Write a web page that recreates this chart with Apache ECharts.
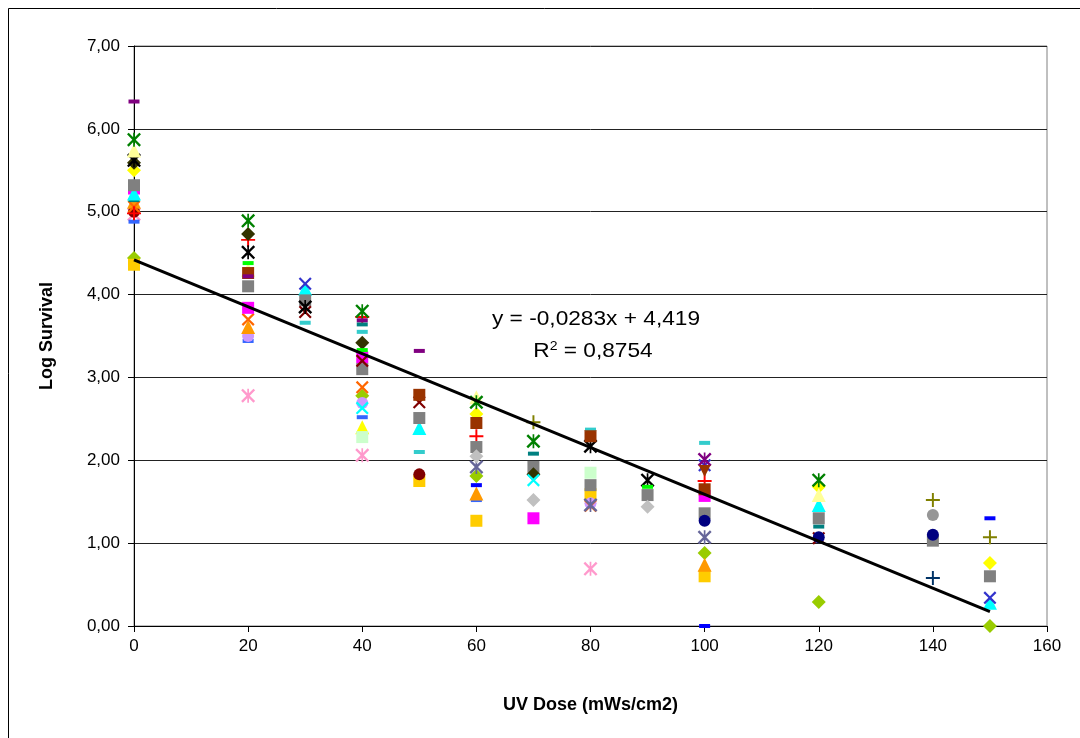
<!DOCTYPE html>
<html>
<head>
<meta charset="utf-8">
<script src="https://cdn.jsdelivr.net/npm/echarts@6/dist/echarts.min.js"></script>
<style>
html,body{margin:0;padding:0;background:#fff;}
#chart{width:1080px;height:738px;}
</style>
</head>
<body>
<div id="chart"></div>
<script>
// ---- Data (x = UV dose, y = log survival) ----
const xTicks = [0, 20, 40, 60, 80, 100, 120, 140, 160];
const yTicks = [0, 1, 2, 3, 4, 5, 6, 7];
const trendSlope = -0.0283;
const trendIntercept = 4.419;
const trendRange = [0, 150];
const equationText = "y = -0,0283x + 4,419";
const r2Text = "0,8754";

const oliveDiamond   = [[0,5.59],[20,4.73],[40,3.42],[70,1.83]];
const graySquare     = [[0,5.32],[20,4.10],[30,3.93],[40,3.10],[50,2.51],[60,2.16],[70,1.92],[80,1.70],[90,1.58],[100,1.36],[120,1.30],[140,1.03],[150,0.60]];
const cyanTriangle   = [[0,5.22],[30,4.07],[50,2.39],[120,1.46],[150,0.28]];
const greenStar      = [[0,5.87],[20,4.89],[40,3.80],[60,2.70],[70,2.23],[120,1.76]];
const blackStar      = [[0,5.62],[20,4.51],[30,3.85],[80,2.17],[90,1.76]];
const yellowDiamond  = [[0,5.50],[60,2.56],[120,1.68],[150,0.76]];
const paleTriangle   = [[0,5.74],[20,4.30],[60,2.76],[120,1.58]];
const brownSquare    = [[20,4.26],[50,2.79],[60,2.45],[80,2.29],[100,1.65]];
const purpleDash     = [[0,6.33],[20,4.22],[40,3.69],[50,3.32]];
const redPlus        = [[0,4.98],[20,4.66],[40,3.73],[60,2.29],[100,1.75]];
const limeDash       = [[20,4.38],[40,3.33],[90,1.68]];
const magentaSquare  = [[0,5.28],[20,3.84],[40,3.24],[70,1.30],[100,1.57]];
const orangeX        = [[0,5.06],[20,3.70],[40,2.88],[80,1.45]];
const orangeTriangle = [[0,5.12],[20,3.61],[60,1.60],[100,0.74]];
const lavenderCircle = [[20,3.50],[40,2.69],[80,1.48]];
const blueDash       = [[0,4.88],[20,3.44],[40,2.52],[60,1.52]];
const pinkStar       = [[0,4.97],[20,2.78],[40,2.06],[80,0.69]];
const turquoiseDash  = [[30,3.66],[40,3.55],[50,2.10],[80,2.37],[100,2.21]];
const tealDash       = [[0,5.14],[40,3.64],[70,2.08],[120,1.20]];
const darkRedX       = [[30,3.79],[40,3.20],[50,2.70],[120,1.06]];
const cyanX          = [[40,2.63],[70,1.76]];
const yellowTriangle = [[40,2.40]];
const mintSquare     = [[40,2.28],[80,1.85]];
const greenDiamond   = [[0,4.44],[40,2.78],[60,1.81],[100,0.88],[120,0.29],[150,0.00]];
const goldSquare     = [[0,4.36],[50,1.75],[60,1.27],[80,1.59],[100,0.60]];
const maroonCircle   = [[0,5.00],[50,1.83]];
const slateStar      = [[60,1.92],[80,1.46],[100,1.07]];
const silverDiamond  = [[60,2.05],[70,1.52],[90,1.44]];
const olivePlus      = [[70,2.46],[140,1.52],[150,1.07]];
const navyCircle     = [[100,1.27],[120,1.07],[140,1.10]];
const grayCircle     = [[140,1.34]];
const darkBluePlus   = [[140,0.58]];
const royalDash      = [[60,1.70],[100,0.00],[150,1.30]];
const slateX         = [[30,4.13],[100,1.94],[150,0.34]];
const purpleStar     = [[100,2.01]];
const brownTriangle  = [[80,2.29],[100,1.87]];

// ---- Marker styles ----
const SYM = {
  diamond: 'diamond',
  square: 'rect',
  triangle: 'triangle',
  circle: 'circle',
  dash: 'rect',
  x: 'path://M0,1.2L1.2,0L5,3.8L8.8,0L10,1.2L6.2,5L10,8.8L8.8,10L5,6.2L1.2,10L0,8.8L3.8,5Z',
  star: 'path://M0,1.2L1.2,0L5,3.8L8.8,0L10,1.2L6.2,5L10,8.8L8.8,10L5,6.2L1.2,10L0,8.8L3.8,5Z M4.4,0H5.6V10H4.4Z',
  plus: 'path://M4.3,0H5.7V4.3H10V5.7H5.7V10H4.3V5.7H0V4.3H4.3Z',
  downTriangle: 'path://M0,0H10L5,10Z'
};
const SIZE = {diamond:14, square:12, triangle:14, circle:12, dash:[11,4], x:13, star:14, plus:14, downTriangle:12};

const seriesDefs = [
  [greenDiamond,'diamond','#99CC00'],
  [goldSquare,'square','#FFCC00'],
  [pinkStar,'star','#FF99CC'],
  [blueDash,'dash','#3366FF'],
  [lavenderCircle,'circle','#CC99FF'],
  [maroonCircle,'circle','#800000'],
  [orangeTriangle,'triangle','#FF9900'],
  [orangeX,'x','#FF6600'],
  [redPlus,'plus','#FF0000'],
  [tealDash,'dash','#008080'],
  [magentaSquare,'square','#FF00FF'],
  [cyanTriangle,'triangle','#00FFFF'],
  [graySquare,'square','#808080'],
  [darkRedX,'x','#800000'],
  [yellowDiamond,'diamond','#FFFF00'],
  [oliveDiamond,'diamond','#333300'],
  [blackStar,'star','#000000'],
  [paleTriangle,'triangle','#FFFF99'],
  [greenStar,'star','#008000'],
  [brownSquare,'square','#993300'],
  [purpleDash,'dash','#800080'],
  [limeDash,'dash','#00FF00'],
  [turquoiseDash,'dash','#33CCCC'],
  [cyanX,'x','#00FFFF'],
  [yellowTriangle,'triangle','#FFFF00'],
  [mintSquare,'square','#CCFFCC'],
  [slateStar,'star','#666699'],
  [silverDiamond,'diamond','#C0C0C0'],
  [olivePlus,'plus','#808000'],
  [navyCircle,'circle','#000080'],
  [grayCircle,'circle','#969696'],
  [darkBluePlus,'plus','#003366'],
  [royalDash,'dash','#0000FF'],
  [slateX,'x','#3333CC'],
  [purpleStar,'star','#800080'],
  [brownTriangle,'downTriangle','#993300']
];

const series = seriesDefs.map(([data, kind, color], i) => ({
  type: 'scatter',
  name: 's' + i,
  data: data,
  symbol: SYM[kind],
  symbolSize: SIZE[kind],
  itemStyle: {color: color, opacity: 1},
  emphasis: {disabled: true},
  z: 2
}));

const trendData = trendRange.map(x => [x, trendIntercept + trendSlope * x]);
series.push({
  type: 'line',
  data: trendData,
  symbol: 'none',
  lineStyle: {color: '#000', width: 3},
  z: 5,
  silent: true
});

const fmt = v => v.toFixed(2).replace('.', ',');

const chart = echarts.init(document.getElementById('chart'));
chart.setOption({
  animation: false,
  backgroundColor: '#fff',
  grid: {left: 134, right: 33, top: 46, bottom: 112, show: true, borderColor: '#808080', borderWidth: 1},
  xAxis: {
    type: 'value', min: xTicks[0], max: xTicks[xTicks.length-1], interval: 20,
    name: 'UV Dose (mWs/cm2)', nameLocation: 'middle', nameGap: 70,
    nameTextStyle: {fontFamily: 'Liberation Sans', fontSize: 18, fontWeight: 'bold', color: '#000'},
    axisLine: {lineStyle: {color: '#000', width: 1}},
    axisTick: {show: true, inside: false, length: 6, lineStyle: {color: '#000'}},
    axisLabel: {fontFamily: 'Liberation Sans', fontSize: 17, color: '#000', margin: 12},
    splitLine: {show: false}
  },
  yAxis: {
    type: 'value', min: yTicks[0], max: yTicks[yTicks.length-1], interval: 1,
    name: 'Log Survival', nameLocation: 'middle', nameGap: 78, nameRotate: 90,
    nameTextStyle: {fontFamily: 'Liberation Sans', fontSize: 18, fontWeight: 'bold', color: '#000'},
    axisLine: {show: true, lineStyle: {color: '#000', width: 1}},
    axisTick: {show: true, inside: false, length: 6, lineStyle: {color: '#000'}},
    axisLabel: {fontFamily: 'Liberation Sans', fontSize: 17, color: '#000', margin: 14, formatter: v => fmt(v)},
    splitLine: {show: true, lineStyle: {color: '#222', width: 1}}
  },
  graphic: [
    {type: 'rect', shape: {x: 8.5, y: 8.5, width: 1200, height: 1200}, style: {fill: 'none', stroke: '#000', lineWidth: 1}, silent: true, z: -1},
    {type: 'text', x: 596, y: 319, scaleX: 1.08, style: {text: equationText, font: '21px "Liberation Sans"', fill: '#000', align: 'center', verticalAlign: 'middle'}, z: 10},
    {type: 'text', x: 593, y: 351, scaleX: 1.08, style: {rich: {a: {font: '21px "Liberation Sans"', fill: '#000'}, s: {font: '13px "Liberation Sans"', fill: '#000', verticalAlign: 'top', padding: [0,0,10,0]}}, text: '{a|R}{s|2}{a| = ' + r2Text + '}', align: 'center', verticalAlign: 'middle'}, z: 10}
  ],
  series: series
});
</script>
</body>
</html>
